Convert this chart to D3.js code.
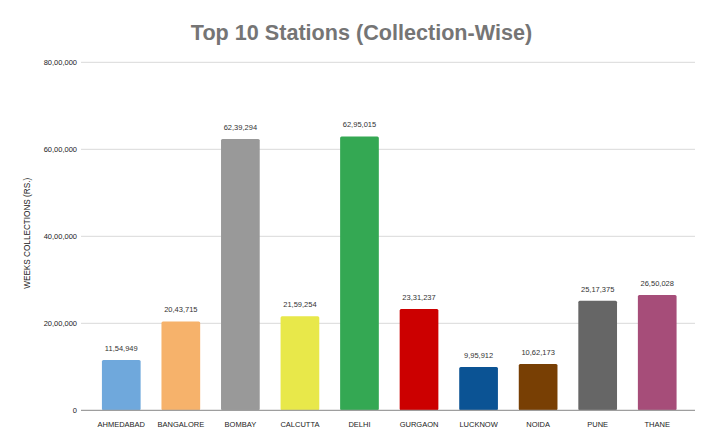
<!DOCTYPE html>
<html>
<head>
<meta charset="utf-8">
<script src="https://cdn.jsdelivr.net/npm/d3@7"></script>
<style>
html,body{margin:0;padding:0;background:#fff;}
svg{display:block;font-family:"Liberation Sans",Arial,sans-serif;}
</style>
</head>
<body>
<svg id="chart" width="717" height="442"></svg>
<script>
const categories = ["AHMEDABAD","BANGALORE","BOMBAY","CALCUTTA","DELHI","GURGAON","LUCKNOW","NOIDA","PUNE","THANE"];
const values = [1154949, 2043715, 6239294, 2159254, 6295015, 2331237, 995912, 1062173, 2517375, 2650028];
const colors = ["#6fa8dc","#f6b26b","#999999","#e8e84a","#34a853","#cc0000","#0b5394","#783f04","#666666","#a64d79"];
const yTicks = [0, 2000000, 4000000, 6000000, 8000000];
const title = "Top 10 Stations (Collection-Wise)";
const yTitle = "WEEKS COLLECTIONS (RS.)";

function inr(n){
  const s = String(Math.round(n));
  if (s.length <= 3) return s;
  const last3 = s.slice(-3);
  let rest = s.slice(0, -3);
  const parts = [];
  while (rest.length > 2) { parts.unshift(rest.slice(-2)); rest = rest.slice(0, -2); }
  if (rest.length) parts.unshift(rest);
  return parts.join(",") + "," + last3;
}

const svg = d3.select("#chart");
const gridLeft = 81, gridRight = 695;
const x = d3.scaleBand().domain(categories).range([91.5, 687]).paddingInner(0.35).paddingOuter(0.175);
const y = d3.scaleLinear().domain([0, 8000000]).range([410.3, 62.3]);

svg.append("text").attr("x", 361.5).attr("y", 40).attr("text-anchor", "middle")
  .attr("font-size", 21.6).attr("font-weight", "bold").attr("fill", "#757575").text(title);

// gridlines
svg.append("g").selectAll("line").data(yTicks.filter(d => d > 0)).join("line")
  .attr("x1", gridLeft).attr("x2", gridRight)
  .attr("y1", d => y(d)).attr("y2", d => y(d))
  .attr("stroke", "#d9d9d9").attr("stroke-width", 1);

// y tick labels
svg.append("g").selectAll("text").data(yTicks).join("text")
  .attr("x", 77).attr("y", d => y(d)).attr("dy", "0.35em")
  .attr("text-anchor", "end").attr("font-size", 7.5).attr("fill", "#222")
  .text(d => inr(d));

// y title
svg.append("text").attr("transform", `translate(30,${y(4000000) - 3}) rotate(-90)`)
  .attr("text-anchor", "middle").attr("font-size", 8.2).attr("fill", "#222").text(yTitle);

// bars
svg.append("g").selectAll("rect").data(values).join("rect")
  .attr("x", (d, i) => x(categories[i]))
  .attr("width", x.bandwidth())
  .attr("y", d => y(d))
  .attr("height", d => y(0) - y(d))
  .attr("rx", 1.5)
  .attr("fill", (d, i) => colors[i]);

// baseline
svg.append("line").attr("x1", gridLeft).attr("x2", gridRight)
  .attr("y1", y(0)).attr("y2", y(0)).attr("stroke", "#9e9e9e").attr("stroke-width", 1.2);

// value labels
svg.append("g").selectAll("text").data(values).join("text")
  .attr("x", (d, i) => x(categories[i]) + x.bandwidth() / 2)
  .attr("y", d => y(d) - 9)
  .attr("text-anchor", "middle").attr("font-size", 7.5).attr("fill", "#333")
  .text(d => inr(d));

// x labels
svg.append("g").selectAll("text").data(categories).join("text")
  .attr("x", d => x(d) + x.bandwidth() / 2)
  .attr("y", 427)
  .attr("text-anchor", "middle").attr("font-size", 7.5).attr("fill", "#222")
  .text(d => d);
</script>
</body>
</html>
